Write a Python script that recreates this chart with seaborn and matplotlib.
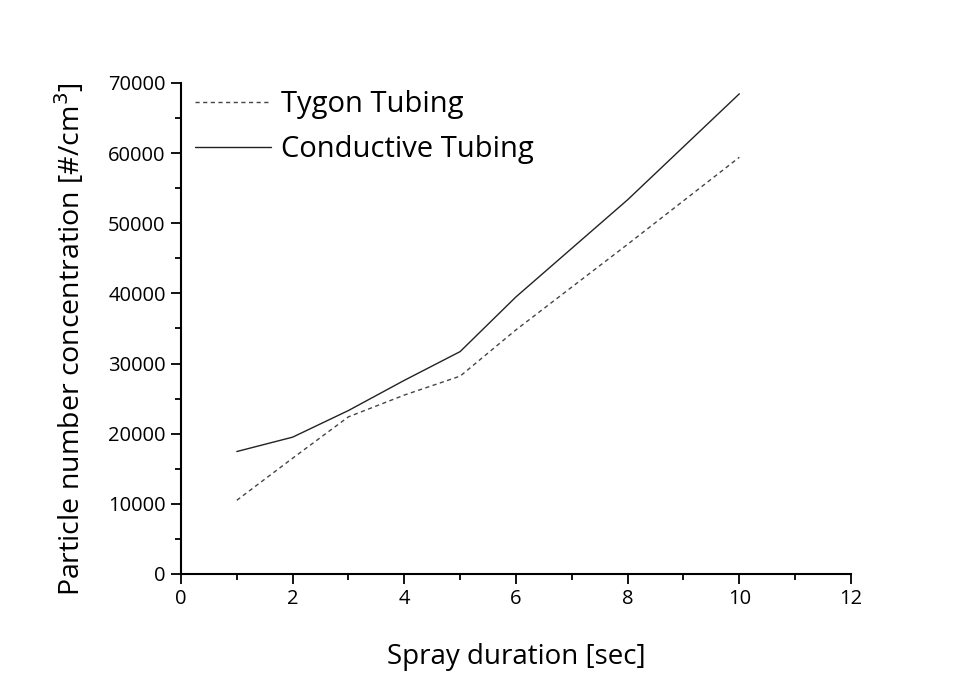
import matplotlib
matplotlib.use("Agg")
import matplotlib.pyplot as plt
import seaborn as sns
import pandas as pd
from matplotlib.ticker import MultipleLocator
from matplotlib.lines import Line2D

duration = [1, 2, 3, 4, 5, 6, 8, 10]
tygon = [10500, 16500, 22400, 25500, 28200, 34800, 47000, 59400]
conductive = [17450, 19500, 23300, 27600, 31700, 39500, 53350, 68450]
series_names = ["Tygon Tubing", "Conductive Tubing"]

df = pd.DataFrame({
    "x": duration * 2,
    "y": tygon + conductive,
    "series": [series_names[0]] * len(duration) + [series_names[1]] * len(duration),
})

sns.set_theme(style="ticks")
plt.rcParams['font.family'] = ['Open Sans', 'DejaVu Sans']
plt.rcParams['text.color'] = 'black'
plt.rcParams['axes.labelcolor'] = 'black'

fig = plt.figure(figsize=(9.73, 6.8), dpi=100)
ax = fig.add_axes([0.186, 0.156, 0.6886, 0.722])

sns.lineplot(data=df, x="x", y="y", style="series", hue="series",
             palette={series_names[0]: "#444444", series_names[1]: "#222222"},
             dashes={series_names[0]: (3, 2.5), series_names[1]: ""},
             linewidth=1.0, ax=ax, legend=False, sort=False)

ax.set_xlim(0, 12)
ax.set_ylim(0, 70000)
ax.xaxis.set_major_locator(MultipleLocator(2))
ax.xaxis.set_minor_locator(MultipleLocator(1))
ax.yaxis.set_major_locator(MultipleLocator(10000))
ax.yaxis.set_minor_locator(MultipleLocator(5000))
ax.tick_params(which="major", direction="out", length=7, width=1.3, labelsize=14.5,
               colors="black", pad=4)
ax.tick_params(which="minor", direction="out", length=4, width=1.3, colors="black")
for s in ["top", "right"]:
    ax.spines[s].set_visible(False)
for s in ["left", "bottom"]:
    ax.spines[s].set_linewidth(1.5)
    ax.spines[s].set_color("black")

ax.set_xlabel("Spray duration [sec]", fontsize=20, labelpad=24)
ax.set_ylabel("Particle number concentration [#/cm$^3$]", fontsize=20.5)
ax.yaxis.set_label_coords(-0.14, 0.478)

handles = [Line2D([], [], color="#444444", lw=1.0, dashes=(3, 2.5)),
           Line2D([], [], color="#222222", lw=1.0)]
ax.legend(handles, series_names, loc="upper left", frameon=False, fontsize=21,
          handlelength=2.6, handletextpad=0.35, labelspacing=0.55,
          bbox_to_anchor=(-0.005, 1.021), borderaxespad=0.2)

fig.savefig("out.png", dpi=100, facecolor="white")
